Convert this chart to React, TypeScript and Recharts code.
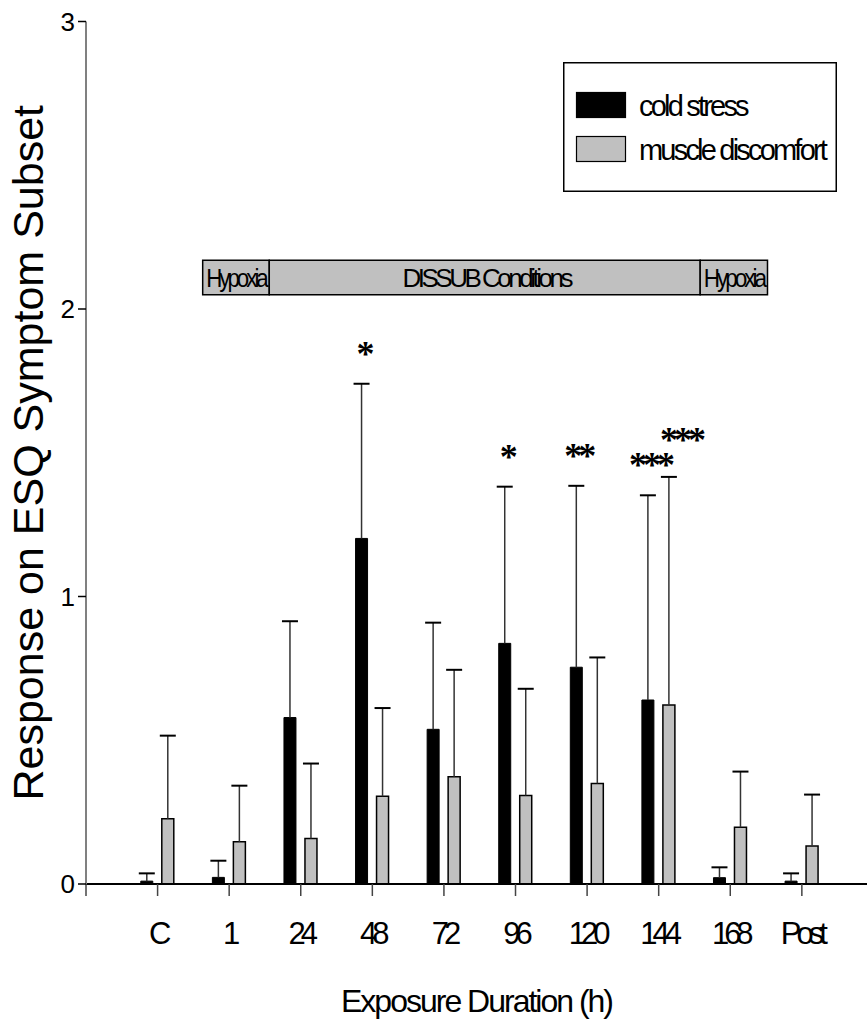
import React from 'react';
import { BarChart, Bar, XAxis, YAxis, ReferenceArea, LabelList, Legend } from 'recharts';

// mean and SD per time point
const categories = ['C', '1', '24', '48', '72', '96', '120', '144', '168', 'Post'];
const coldStress = [0.01, 0.023, 0.579, 1.202, 0.538, 0.837, 0.754, 0.64, 0.022, 0.01];
const coldStressSd = [0.027, 0.058, 0.335, 0.538, 0.371, 0.545, 0.631, 0.712, 0.036, 0.027];
const muscleDiscomfort = [0.227, 0.147, 0.158, 0.305, 0.373, 0.308, 0.35, 0.623, 0.197, 0.132];
const muscleDiscomfortSd = [0.289, 0.195, 0.261, 0.307, 0.372, 0.371, 0.438, 0.793, 0.194, 0.179];
const coldMarks = ['', '', '', '*', '', '*', '**', '***', '', ''];
const muscleMarks = ['', '', '', '', '', '', '', '***', '', ''];

const seriesNames = ['cold stress', 'muscle discomfort'];
const seriesColors = ['#000000', '#c0c0c0'];

// exposure phases, in x-axis units (category index)
const phaseNames = ['Hypoxia', 'DISSUB Conditions', 'Hypoxia'];
const phaseEdges = [1.63, 2.56, 8.58, 9.52];
const phaseBand = [2.05, 2.17];

const yTicks = [0, 1, 2, 3];
const xTicks = [0, 1, 2, 3, 4, 5, 6, 7, 8, 9, 10];

const FONT = "'Liberation Sans', Arial, sans-serif";
const SERIF = "'Liberation Serif', 'Times New Roman', serif";

const data = categories.map((label, i) => ({
  pos: i + 1,
  label,
  cold: coldStress[i],
  coldSd: coldStressSd[i],
  coldMark: coldMarks[i],
  muscle: muscleDiscomfort[i],
  muscleSd: muscleDiscomfortSd[i],
  muscleMark: muscleMarks[i],
}));

const Whisker = (props: any) => {
  const { x, y, width, height } = props;
  if (!height || height <= 0) return null;
  const cx = x + width / 2;
  return (
    <g>
      <line x1={cx} y1={y} x2={cx} y2={y + height} stroke="#333" strokeWidth={1.5} />
      <line x1={cx - 8} y1={y} x2={cx + 8} y2={y} stroke="#000" strokeWidth={2} />
    </g>
  );
};

// significance marks, sitting above the whisker cap
const starsAbove = (dx: number, lift: number) => (props: any) => {
  const { value } = props;
  if (!value) return null;
  const vb = props.viewBox && props.viewBox.width != null ? props.viewBox : props;
  return (
    <text
      x={vb.x + vb.width / 2 + dx}
      y={vb.y - lift + 17}
      textAnchor="middle"
      fontFamily={SERIF}
      fontWeight="bold"
      fontSize={36}
      letterSpacing={-4}
      fill="#000"
    >
      {value}
    </text>
  );
};

const PhaseLabel = (text: string) => (props: any) => {
  const vb = props.viewBox;
  const narrow = vb.width < 100;
  return (
    <text
      x={vb.x + vb.width / 2 + (narrow ? 0 : 1.5)}
      y={vb.y + vb.height / 2 + 1}
      textAnchor="middle"
      dominantBaseline="central"
      fontFamily={FONT}
      fontSize={26}
      letterSpacing={-3.5}
      textLength={narrow ? vb.width - 7 : undefined}
      lengthAdjust="spacingAndGlyphs"
      fill="#000"
    >
      {text}
    </text>
  );
};

const YLabel = (props: any) => {
  const vb = props.viewBox;
  const cy = vb.y + vb.height / 2;
  return (
    <text
      x={43}
      y={cy}
      transform={`rotate(-90, 43, ${cy})`}
      textAnchor="middle"
      fontFamily={FONT}
      fontSize={43}
      fill="#000"
    >
      Response on ESQ Symptom Subset
    </text>
  );
};

const LegendBox = () => (
  <svg width={274} height={130}>
    <rect x={0.75} y={0.75} width={272.5} height={128.5} fill="#fff" stroke="#000" strokeWidth={1.5} />
    {seriesNames.map((name, i) => (
      <g key={name}>
        <rect x={13.5} y={30.5 + i * 44} width={49} height={25} fill={seriesColors[i]} stroke="#000" strokeWidth={1.2} />
        <text x={76} y={54 + i * 44} fontFamily={FONT} fontSize={29} letterSpacing={-2.8} fill="#000">
          {name}
        </text>
      </g>
    ))}
  </svg>
);

export default function App() {
  return (
    <div style={{ position: 'absolute', left: 0, top: 0, background: '#fff' }}>
      <BarChart
        width={867}
        height={1024}
        data={data}
        margin={{ top: 21.5, right: 0, bottom: 0, left: 0 }}
        barSize={12}
        barGap={9}
      >
        <XAxis
          type="number"
          dataKey="pos"
          domain={[0, 10.91]}
          ticks={xTicks}
          interval={0}
          allowDataOverflow
          height={140}
          tickSize={12}
          tickMargin={26}
          tickFormatter={(v: number) => (v === 0 ? '' : categories[v - 1])}
          axisLine={{ stroke: '#000', strokeWidth: 2 }}
          tickLine={{ stroke: '#444', strokeWidth: 1.5 }}
          tick={{ fontSize: 31, fill: '#000', fontFamily: FONT, letterSpacing: -5 }}
          label={{
            value: 'Exposure Duration (h)',
            position: 'insideBottom',
            offset: 12,
            fontSize: 32,
            fill: '#000',
            fontFamily: FONT,
            letterSpacing: -2,
          }}
        />
        <YAxis
          type="number"
          domain={[0, 3]}
          ticks={yTicks}
          width={86}
          tickSize={8}
          tickMargin={3}
          axisLine={{ stroke: '#808080', strokeWidth: 2 }}
          tickLine={{ stroke: '#000', strokeWidth: 1.5 }}
          tick={{ fontSize: 26, fill: '#000', fontFamily: FONT }}
          label={{ content: YLabel }}
        />
        {phaseNames.map((name, i) => (
          <ReferenceArea
            key={i}
            x1={phaseEdges[i]}
            x2={phaseEdges[i + 1]}
            y1={phaseBand[0]}
            y2={phaseBand[1]}
            fill="#c0c0c0"
            fillOpacity={1}
            stroke="#000"
            strokeWidth={1.5}
            ifOverflow="visible"
            label={{ content: PhaseLabel(name) }}
          />
        ))}
        <Bar dataKey="cold" stackId="c" fill={seriesColors[0]} stroke="#000" strokeWidth={1} isAnimationActive={false} />
        <Bar dataKey="coldSd" stackId="c" fill="none" shape={Whisker} isAnimationActive={false}>
          <LabelList dataKey="coldMark" content={starsAbove(2, 35)} />
        </Bar>
        <Bar dataKey="muscle" stackId="m" fill={seriesColors[1]} stroke="#000" strokeWidth={1.5} isAnimationActive={false} />
        <Bar dataKey="muscleSd" stackId="m" fill="none" shape={Whisker} isAnimationActive={false}>
          <LabelList dataKey="muscleMark" content={starsAbove(12, 42)} />
        </Bar>
        <Legend
          layout="vertical"
          align="center"
          verticalAlign="middle"
          content={LegendBox}
          wrapperStyle={{ position: 'absolute', left: 563, top: 62, width: 274, height: 130 }}
        />
      </BarChart>
    </div>
  );
}
